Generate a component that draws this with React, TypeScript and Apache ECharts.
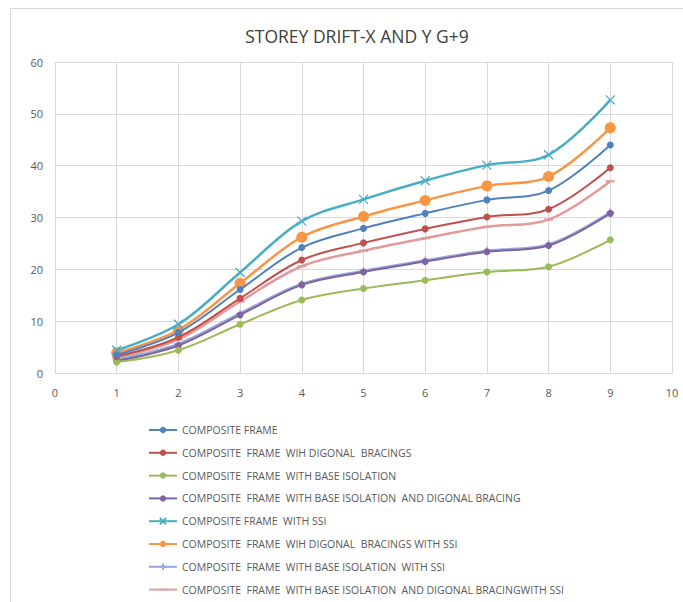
import React, { useEffect, useRef } from "react";
import * as echarts from "echarts";

const storeys = [1, 2, 3, 4, 5, 6, 7, 8, 9];
const xTicks = [0, 1, 2, 3, 4, 5, 6, 7, 8, 9, 10];
const yTicks = [0, 10, 20, 30, 40, 50, 60];

const seriesNames = [
  "COMPOSITE FRAME",
  "COMPOSITE  FRAME  WIH DIGONAL  BRACINGS",
  "COMPOSITE  FRAME  WITH BASE ISOLATION",
  "COMPOSITE  FRAME  WITH BASE ISOLATION  AND DIGONAL BRACING",
  "COMPOSITE FRAME  WITH SSI",
  "COMPOSITE  FRAME  WIH DIGONAL  BRACINGS WITH SSI",
  "COMPOSITE  FRAME  WITH BASE ISOLATION  WITH SSI",
  "COMPOSITE  FRAME  WITH BASE ISOLATION  AND DIGONAL BRACINGWITH SSI",
];

const compositeFrame = [3.5, 7.8, 16.1, 24.2, 27.9, 30.8, 33.4, 35.2, 44.0];
const withBracings = [3.2, 6.9, 14.4, 21.8, 25.1, 27.8, 30.1, 31.6, 39.6];
const baseIsolation = [2.1, 4.4, 9.4, 14.1, 16.3, 17.9, 19.5, 20.5, 25.7];
const baseIsoBracing = [2.3, 5.3, 11.2, 17.0, 19.5, 21.5, 23.4, 24.6, 30.8];
const frameSSI = [4.4, 9.4, 19.4, 29.3, 33.5, 37.1, 40.1, 42.1, 52.7];
const bracingsSSI = [3.9, 8.3, 17.3, 26.2, 30.2, 33.3, 36.1, 37.9, 47.3];
const baseIsoSSI = [2.6, 5.6, 11.5, 17.2, 19.7, 21.7, 23.6, 24.8, 31.0];
const baseIsoBracingSSI = [3.0, 6.5, 13.8, 20.6, 23.6, 26.0, 28.2, 29.6, 37.0];

const allValues = [
  compositeFrame,
  withBracings,
  baseIsolation,
  baseIsoBracing,
  frameSSI,
  bracingsSSI,
  baseIsoSSI,
  baseIsoBracingSSI,
];

const colors = ["#4F81BD", "#C0504D", "#9BBB59", "#8064A2", "#4BACC6", "#F79646", "#95A9DA", "#E29A9A"];

// marker shapes
const crossPath = "path://M0,0L10,10M10,0L0,10";
const plusPath = "path://M5,0L5,10M0,5L10,5";
const dashPath = "path://M0,0M10,10M0,3.8L10,3.8L10,6.2L0,6.2Z";

const symbols = ["circle", "circle", "circle", "circle", crossPath, "circle", plusPath, dashPath];
const symbolSizes = [7, 7, 7, 7, 9, 11, 8, 9];

export default function App() {
  const ref = useRef<HTMLDivElement>(null);

  useEffect(() => {
    if (!ref.current) return;
    const chart = echarts.init(ref.current, undefined, { renderer: "svg" });

    const series = allValues.map((vals, i) => {
      const isStroke = i === 4 || i === 6;
      return {
        name: seriesNames[i],
        type: "line",
        smooth: 0.35,
        data: storeys.map((s, k) => [s, vals[k]]),
        symbol: symbols[i],
        symbolSize: symbolSizes[i],
        showSymbol: true,
        lineStyle: { color: colors[i], width: i >= 4 ? 2.5 : 2 },
        itemStyle: isStroke
          ? { color: "transparent", borderColor: colors[i], borderWidth: 1.3 }
          : { color: colors[i], borderColor: colors[i], borderWidth: 0 },
        z: 10 - i,
      };
    });

    chart.setOption({
      animation: false,
      backgroundColor: "#ffffff",
      title: {
        text: "STOREY DRIFT-X AND Y G+9",
        left: 352,
        textAlign: "center",
        top: 22,
        textStyle: {
          fontFamily: "Open Sans",
          fontSize: 17.5,
          fontWeight: "normal",
          color: "#404040",
        },
      },
      graphic: [
        {
          type: "rect",
          shape: { x: 10.5, y: 8.5, width: 700, height: 620 },
          style: { fill: "none", stroke: "#d9d9d9", lineWidth: 1 },
          silent: true,
        },
      ],
      legend: {
        orient: "vertical",
        left: 143,
        top: 418,
        itemGap: 8.8,
        itemWidth: 28,
        itemHeight: 8,
        data: seriesNames,
        textStyle: {
          fontFamily: "Open Sans",
          fontSize: 10.5,
          lineHeight: 14,
          color: "#595959",
        },
      },
      grid: {
        left: 55,
        right: 11,
        top: 62,
        bottom: 229,
        containLabel: false,
      },
      xAxis: {
        type: "value",
        min: 0,
        max: 10,
        interval: 1,
        axisLine: { show: true, lineStyle: { color: "#d9d9d9" } },
        axisTick: { show: false },
        splitLine: { show: true, lineStyle: { color: "#d9d9d9" } },
        axisLabel: {
          color: "#595959",
          fontSize: 11,
          fontFamily: "Open Sans",
          margin: 14,
          formatter: (v: number) => (xTicks.includes(v) ? String(v) : ""),
        },
      },
      yAxis: {
        type: "value",
        min: 0,
        max: 60,
        interval: 10,
        axisLine: { show: false },
        axisTick: { show: false },
        splitLine: { show: true, lineStyle: { color: "#d9d9d9" } },
        axisLabel: {
          color: "#595959",
          fontSize: 11,
          fontFamily: "Open Sans",
          margin: 12,
          formatter: (v: number) => (yTicks.includes(v) ? String(v) : ""),
        },
      },
      series,
    });

    return () => chart.dispose();
  }, []);

  return (
    <div
      ref={ref}
      style={{ position: "fixed", left: 0, top: 0, width: 683, height: 602 }}
    />
  );
}
